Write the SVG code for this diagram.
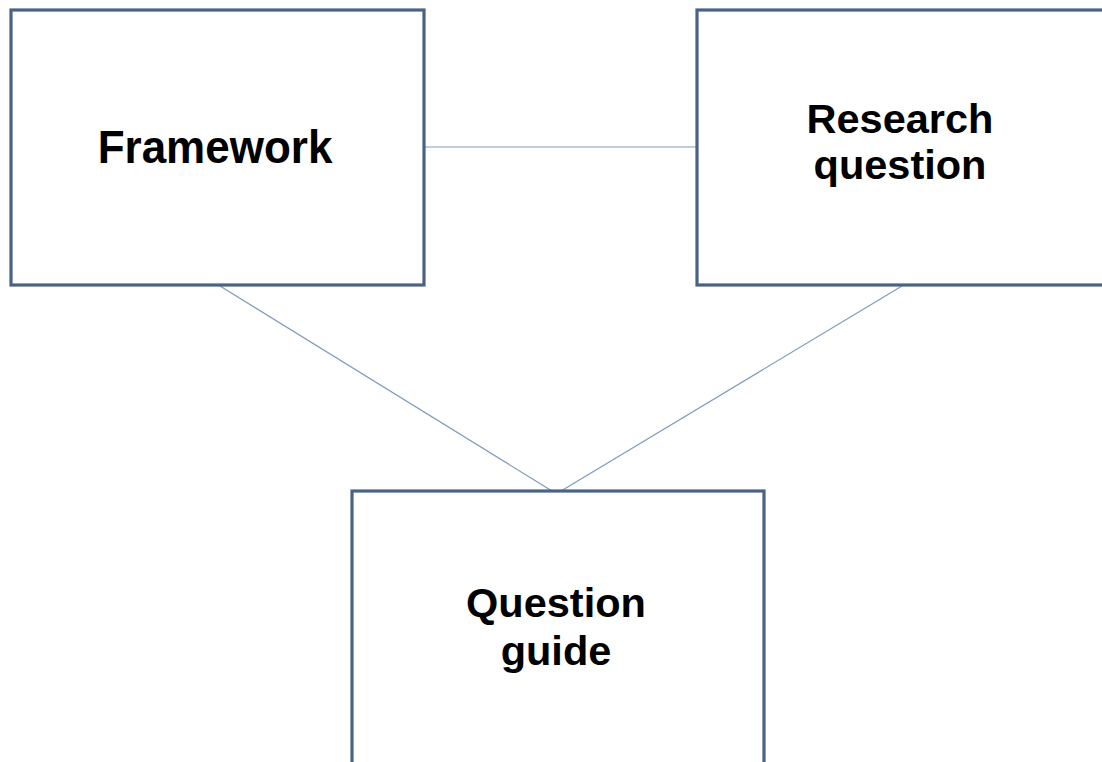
<svg xmlns="http://www.w3.org/2000/svg" width="1102" height="762" viewBox="0 0 1102 762">
  <style>
    .box { fill: #ffffff; stroke: #4a6283; stroke-width: 3.2; }
    .link { stroke: #7e9ac0; stroke-width: 1.2; fill: none; }
    .label { font-family: "Liberation Sans", Arial, sans-serif; font-weight: bold; font-size: 41.5px; fill: #000000; text-anchor: middle; }
  </style>
  <rect width="1102" height="762" fill="#ffffff"/>
  <g id="connectors">
    <line class="link" x1="424" y1="147" x2="697" y2="147"/>
    <line class="link" x1="220" y1="286" x2="552" y2="491"/>
    <line class="link" x1="902" y1="286" x2="561" y2="491"/>
  </g>
  <g id="framework">
    <rect class="box" x="11" y="10" width="413" height="275"/>
    <text class="label" transform="translate(215 163) scale(1 1.04)" style="font-size:44px">Framework</text>
  </g>
  <g id="research-question">
    <rect class="box" x="697" y="10" width="420" height="275"/>
    <text class="label" x="900" y="133">Research</text>
    <text class="label" x="900" y="178.5">question</text>
  </g>
  <g id="question-guide">
    <rect class="box" x="352" y="491" width="412" height="290"/>
    <text class="label" x="556" y="617">Question</text>
    <text class="label" x="556" y="665">guide</text>
  </g>
</svg>
